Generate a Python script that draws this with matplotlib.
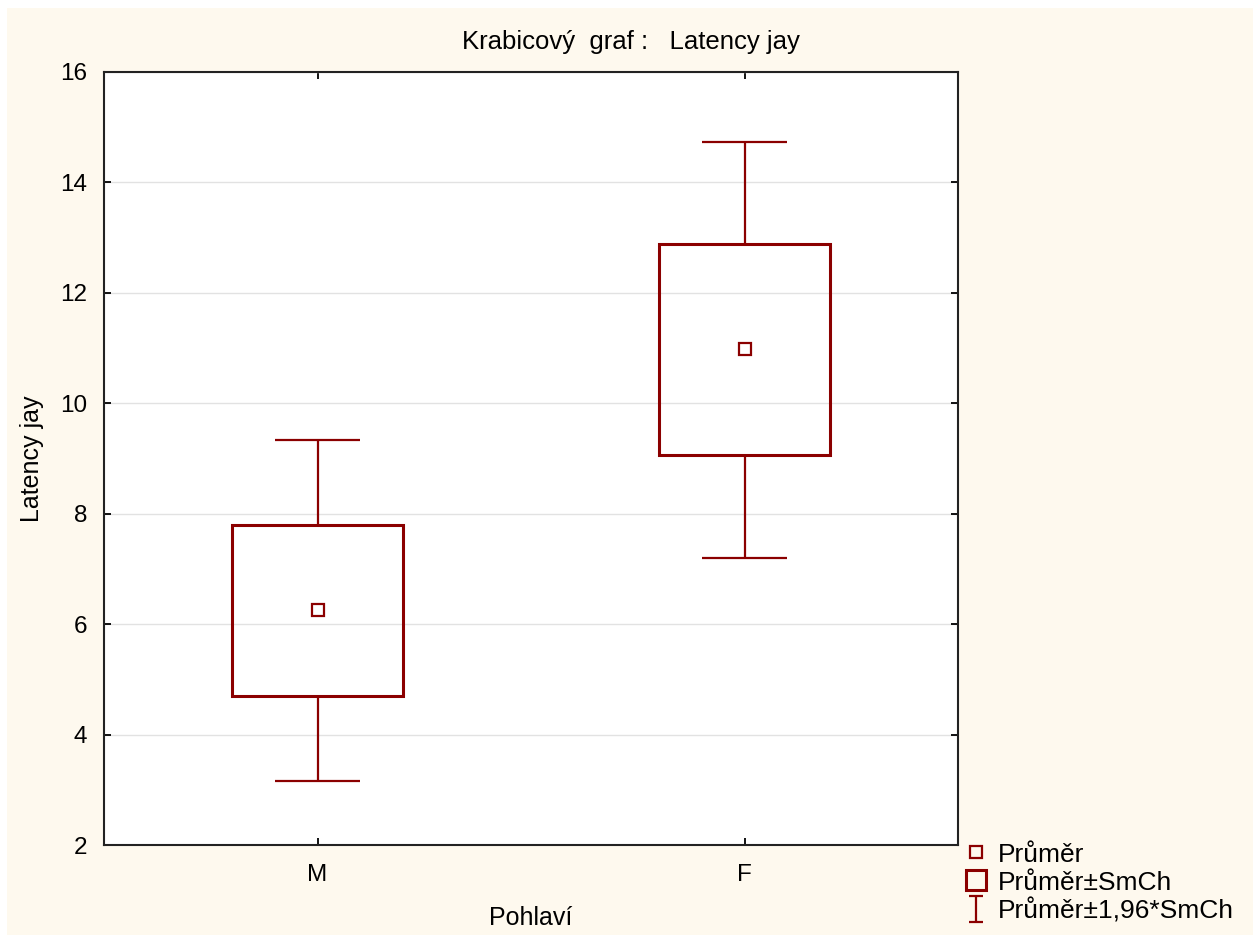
import matplotlib
matplotlib.use("Agg")
import matplotlib.pyplot as plt
from matplotlib.lines import Line2D
from matplotlib.path import Path
from matplotlib.patches import Rectangle

plt.rcParams['font.family'] = ['Liberation Sans', 'DejaVu Sans']

categories = ["M", "F"]
means = [6.26, 10.99]
se_low = [4.70, 9.07]
se_high = [7.80, 12.89]
ci_low = [3.16, 7.20]
ci_high = [9.34, 14.74]
yticks = [2, 4, 6, 8, 10, 12, 14, 16]
title = "Krabicový  graf :   Latency jay"
xlabel = "Pohlaví"
ylabel = "Latency jay"
legend_labels = ["Průměr", "Průměr±SmCh", "Průměr±1,96*SmCh"]

W, H = 1260, 935
red = "#8B0000"
cream = "#FEF9EE"

fig = plt.figure(figsize=(W / 100, H / 100), dpi=100)
fig.patch.set_facecolor("white")
fig.add_artist(Rectangle((7 / W, 0), (1253 - 7) / W, 1 - 8 / H,
                         transform=fig.transFigure, facecolor=cream,
                         edgecolor="none", zorder=-10))

ax = fig.add_axes([104 / W, 1 - 845 / H, 854 / W, 773 / H])
ax.set_facecolor("white")
pos = list(range(len(categories)))

# boxes (mean ± SE)
ax.bar(pos, [h - l for h, l in zip(se_high, se_low)], bottom=se_low, width=0.4,
       fill=False, edgecolor=red, linewidth=2.2, zorder=3)
# whiskers (mean ± 1.96 SE)
ax.vlines(pos, ci_low, se_low, color=red, linewidth=1.6, zorder=3)
ax.vlines(pos, se_high, ci_high, color=red, linewidth=1.6, zorder=3)
ax.hlines(ci_low, [p - 0.1 for p in pos], [p + 0.1 for p in pos], color=red, linewidth=1.6, zorder=3)
ax.hlines(ci_high, [p - 0.1 for p in pos], [p + 0.1 for p in pos], color=red, linewidth=1.6, zorder=3)
# means
ax.plot(pos, means, ls="none", marker="s", ms=8.5, mfc="white", mec=red, mew=1.6, zorder=4)

ax.set_xlim(-0.5, 1.5)
ax.set_ylim(2, 16)
ax.set_yticks(yticks)
ax.set_xticks(pos)
ax.set_xticklabels(categories)
ax.yaxis.grid(True, color="#E2E2E2", linewidth=1.0)
ax.set_axisbelow(True)
ax.tick_params(direction="in", top=True, right=True, length=5, width=1.3,
               labelsize=17.5)
ax.tick_params(axis="y", pad=12)
ax.tick_params(axis="x", pad=14)
for s in ax.spines.values():
    s.set_linewidth(1.5)
    s.set_color("#222222")

ax.set_xlabel(xlabel, fontsize=18, labelpad=14)
ax.set_ylabel(ylabel, fontsize=18, labelpad=12)
fig.text(631 / W, 1 - 42 / H, title, ha="center", va="center", fontsize=18.5)

# legend
ipath = Path([(-0.5, -1), (0.5, -1), (0, -1), (0, 1), (-0.5, 1), (0.5, 1)],
             [Path.MOVETO, Path.LINETO, Path.MOVETO, Path.LINETO, Path.MOVETO, Path.LINETO])
handles = [
    Line2D([], [], ls="none", marker="s", ms=8.5, mfc="none", mec=red, mew=1.6),
    Line2D([], [], ls="none", marker="s", ms=14, mfc="none", mec=red, mew=2.2),
    Line2D([], [], ls="none", marker=ipath, ms=19, mfc="none", mec=red, mew=1.6),
]
fig.legend(handles, legend_labels, loc="upper left",
           bbox_to_anchor=(954 / W, 1 - 832 / H), frameon=False, fontsize=19,
           handlelength=0.9, handletextpad=0.35, labelspacing=0.15, borderaxespad=0)

fig.savefig("out.png", dpi=100, facecolor="white")
